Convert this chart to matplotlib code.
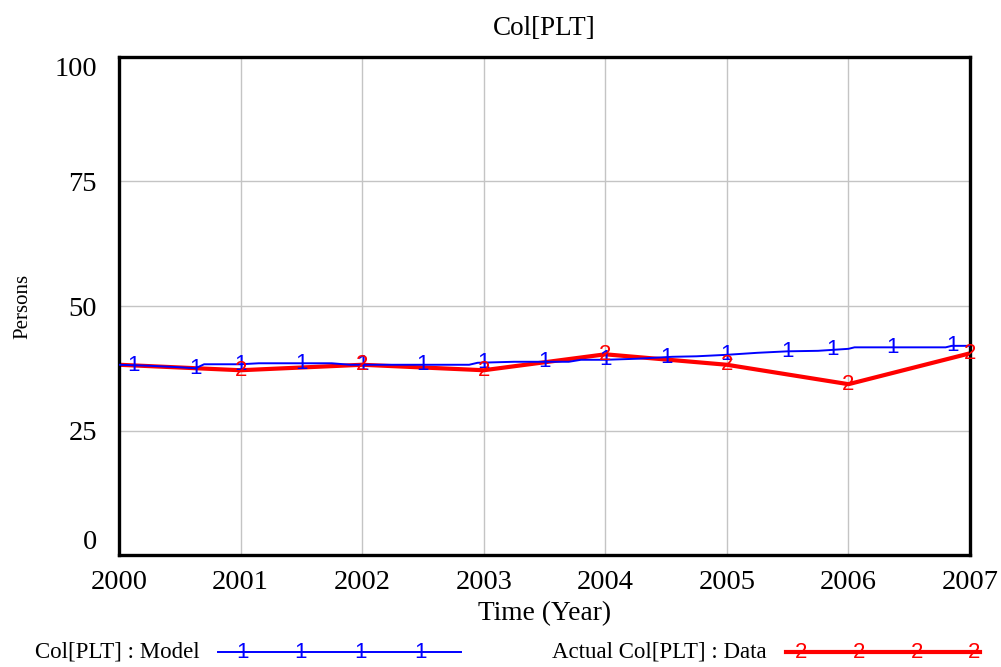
import numpy as np
import matplotlib
matplotlib.use("Agg")
import matplotlib.pyplot as plt
from matplotlib.lines import Line2D

# Model run (simulated, fine time steps)
model_time = [2000.0, 2000.25, 2000.5, 2000.63, 2000.7, 2001.0, 2001.15, 2001.5, 2001.75,
              2001.9, 2002.0, 2002.5, 2002.88, 2002.95, 2003.25, 2003.7, 2003.8, 2004.0,
              2004.25, 2004.55, 2004.75, 2005.0, 2005.25, 2005.5, 2005.75, 2006.0, 2006.05,
              2006.5, 2006.8, 2006.85, 2007.0]
model_vals = [38.2, 38.0, 37.7, 37.5, 38.3, 38.3, 38.5, 38.5, 38.5,
              38.2, 38.2, 38.2, 38.2, 38.6, 38.8, 38.8, 39.2, 39.2,
              39.4, 39.8, 39.9, 40.2, 40.6, 40.9, 41.0, 41.4, 41.7,
              41.7, 41.7, 42.0, 42.0]

# Actual data, yearly
data_years = [2000, 2001, 2002, 2003, 2004, 2005, 2006, 2007]
data_vals = [38.2, 37.1, 38.2, 37.1, 40.3, 38.2, 34.3, 40.5]

# where Vensim drew the series number labels
model_marks = [2000.12, 2000.63, 2001.0, 2001.5, 2002.0, 2002.5, 2003.0, 2003.5, 2004.0,
               2004.5, 2005.0, 2005.5, 2005.87, 2006.36, 2006.86]
data_marks = [2001, 2002, 2003, 2004, 2005, 2006, 2007]

yticks = [0, 25, 50, 75, 100]
xticks = list(range(2000, 2008))

serif = "Liberation Serif"
BLUE = "#0000FF"
RED = "#FF0000"
MK = 16  # size of the "1"/"2" series markers

fig = plt.figure(figsize=(10.01, 6.67), dpi=100)
ax = fig.add_axes([119 / 1001, 1 - 555 / 667, (970 - 119) / 1001, (555 - 57) / 667])

ax.plot(model_time, model_vals, color=BLUE, linewidth=1.4, zorder=3)
ax.plot(data_years, data_vals, color=RED, linewidth=3.0, zorder=2)

# series number markers
for t in model_marks:
    ax.text(t, np.interp(t, model_time, model_vals), "1", color=BLUE, fontsize=MK,
            family="Liberation Sans", ha="center", va="center", zorder=4, clip_on=False)
for t in data_marks:
    ax.text(t, np.interp(t, data_years, data_vals), "2", color=RED, fontsize=MK,
            family="Liberation Sans", ha="center", va="center", zorder=4, clip_on=False)

ax.set_xlim(2000, 2007)
ax.set_ylim(0, 100)
ax.set_xticks(xticks)
ax.set_yticks(yticks)
ax.set_xticklabels([str(x) for x in xticks], fontsize=20.5, family=serif)
ax.set_yticklabels([str(y) for y in yticks], fontsize=20.5, family=serif)
ax.tick_params(length=0)
ax.tick_params(axis="y", pad=16)
ax.tick_params(axis="x", pad=11)
ylabs = ax.get_yticklabels()
ylabs[0].set_va("bottom")
ylabs[-1].set_va("top")

ax.grid(True, color="#c4c4c4", linewidth=1.0)
ax.set_axisbelow(True)
for s in ax.spines.values():
    s.set_linewidth(2.4)
    s.set_color("black")

ax.set_title("Col[PLT]", fontsize=19.5, family=serif, pad=16)
ax.set_xlabel("Time (Year)", fontsize=19.8, family=serif, labelpad=4)
ax.set_ylabel("Persons", fontsize=15, family=serif, labelpad=16)

# legend drawn along the bottom
ly = 1 - 652 / 667
fig.text(35 / 1001, ly, "Col[PLT] : Model", fontsize=16.5, family=serif, va="center")
fig.add_artist(Line2D([218 / 1001, 461 / 1001], [ly, ly], color=BLUE, linewidth=1.4))
for x in [242, 301, 361, 420]:
    fig.text(x / 1001, ly, "1", color=BLUE, fontsize=MK, family="Liberation Sans",
             ha="center", va="center")
fig.text(552 / 1001, ly, "Actual Col[PLT] : Data", fontsize=16.5, family=serif, va="center")
fig.add_artist(Line2D([786 / 1001, 980 / 1001], [ly, ly], color=RED, linewidth=3.0))
for x in [801, 859, 917, 974]:
    fig.text(x / 1001, ly, "2", color=RED, fontsize=MK, family="Liberation Sans",
             ha="center", va="center")

fig.savefig("out.png", dpi=100)
